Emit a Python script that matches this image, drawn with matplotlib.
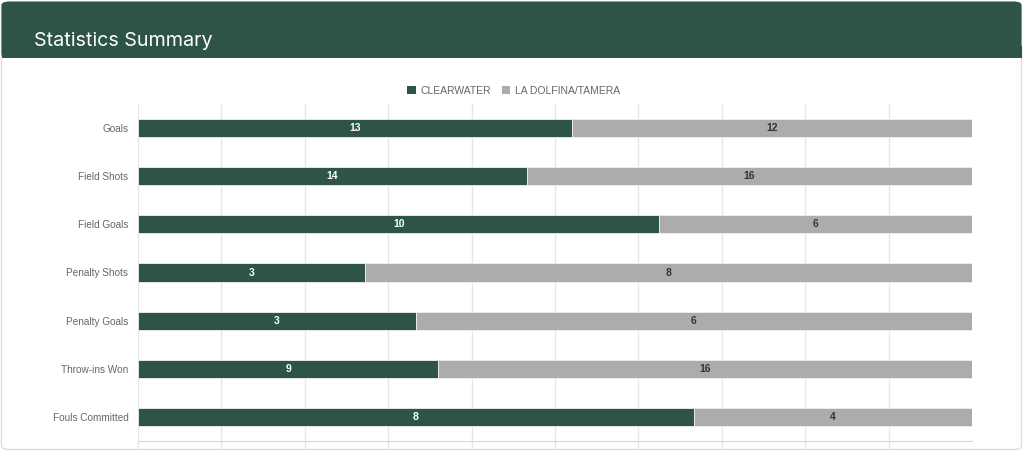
import matplotlib
matplotlib.use("Agg")
import matplotlib.pyplot as plt
from matplotlib.patches import FancyBboxPatch, Rectangle
import numpy as np

categories = ["Goals", "Field Shots", "Field Goals", "Penalty Shots",
              "Penalty Goals", "Throw-ins Won", "Fouls Committed"]
clearwater = [13, 14, 10, 3, 3, 9, 8]
la_dolfina = [12, 16, 6, 8, 6, 16, 4]
series_names = ["CLEARWATER", "LA DOLFINA/TAMERA"]

GREEN = "#2d5446"
GRAY = "#acacac"

W, H = 1024, 451
fig = plt.figure(figsize=(W / 100, H / 100), dpi=100)
fig.patch.set_facecolor("white")

# card with border
card = FancyBboxPatch((1.5 / W, 1.5 / H), (W - 4) / W, (H - 4) / H,
                      boxstyle="round,pad=0,rounding_size=0.008",
                      transform=fig.transFigure, facecolor="white",
                      edgecolor="#dcdcdc", linewidth=1.0, zorder=-10)
fig.patches.append(card)
# header
hdr = FancyBboxPatch((1.5 / W, 1 - 58 / H), (W - 4) / W, 56.5 / H,
                     boxstyle="round,pad=0,rounding_size=0.008",
                     transform=fig.transFigure, facecolor=GREEN,
                     edgecolor="none", zorder=-9)
fig.patches.append(hdr)
fig.patches.append(Rectangle((1.5 / W, 1 - 58 / H), (W - 4) / W, 12 / H,
                             transform=fig.transFigure, facecolor=GREEN,
                             edgecolor="none", zorder=-9))
fig.text(34 / W, 1 - 41 / H, "Statistics Summary", color="white",
         fontsize=14.2, family="Inter", va="center", ha="left", zorder=2)

ax = fig.add_axes([138 / W, 1 - 441 / H, (972 - 138) / W, (441 - 104) / H])
ax.set_zorder(5)
cw = np.array(clearwater, dtype=float)
ld = np.array(la_dolfina, dtype=float)
tot = cw + ld
p1 = cw / tot * 100
p2 = ld / tot * 100
y = np.arange(len(categories))
bh = 0.375
ax.barh(y, p1, height=bh, color=GREEN, edgecolor="#f0f0f0", linewidth=0.6,
        label=series_names[0], zorder=3)
ax.barh(y, p2, left=p1, height=bh, color=GRAY, edgecolor="#f0f0f0", linewidth=0.6,
        label=series_names[1], zorder=3)
for i in range(len(categories)):
    ax.text(p1[i] / 2, y[i], str(clearwater[i]), color="white", fontsize=7.5,
            fontweight="bold", ha="center", va="center", family="Liberation Sans", zorder=4)
    ax.text(p1[i] + p2[i] / 2, y[i], str(la_dolfina[i]), color="#333333", fontsize=7.5,
            fontweight="bold", ha="center", va="center", family="Liberation Sans", zorder=4)

ax.set_xlim(0, 100)
ax.set_ylim(len(categories) - 0.5, -0.5)
ax.set_yticks(y)
ax.set_yticklabels(categories, family="Liberation Sans", fontsize=7.2, color="#666666")
ax.set_xticks(np.linspace(0, 90, 10))
ax.set_xticklabels([])
ax.tick_params(axis="y", length=0, pad=7)
ax.tick_params(axis="x", length=6, color="#e6e6e6", width=1)
ax.grid(axis="x", color="#e6e6e6", linewidth=1, zorder=0)
for s in ["top", "right", "left"]:
    ax.spines[s].set_visible(False)
ax.spines["bottom"].set_color("#d9d9d9")
ax.set_facecolor("none")

leg = fig.legend(loc="center", bbox_to_anchor=(514 / W, 1 - 91 / H), ncol=2,
                 frameon=False, handlelength=0.8, handleheight=0.8,
                 handletextpad=0.5, columnspacing=1.0,
                 prop={"family": "Liberation Sans", "size": 7.5})
for t in leg.get_texts():
    t.set_color("#666666")
for h in leg.legend_handles:
    h.set_edgecolor("none")

fig.savefig("out.png", dpi=100)
